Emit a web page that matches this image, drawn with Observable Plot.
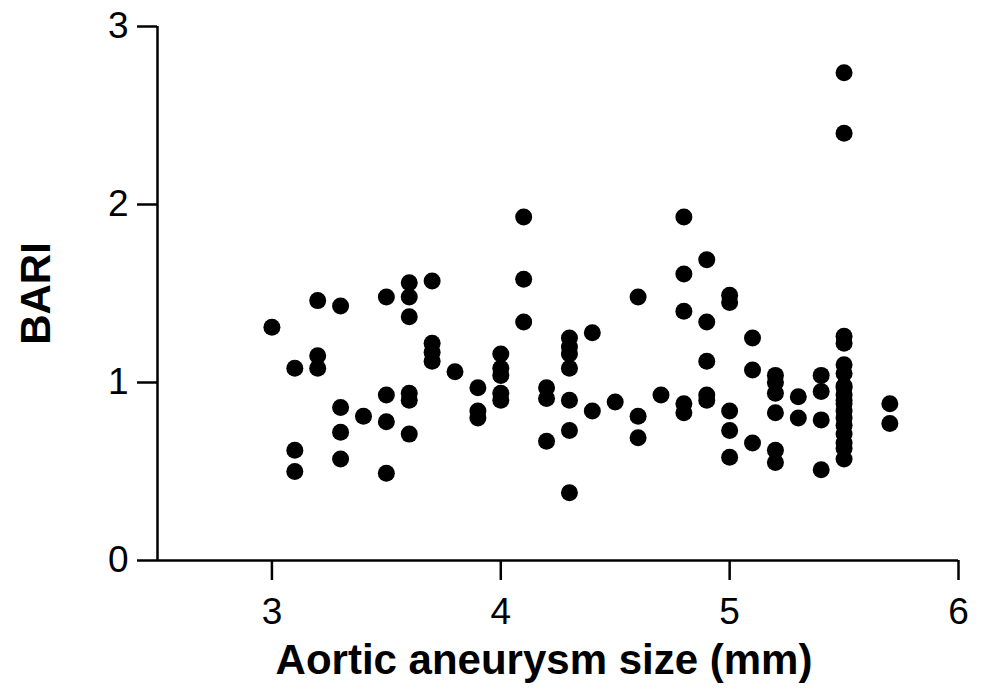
<!DOCTYPE html>
<html>
<head>
<meta charset="utf-8">
<script src="https://cdn.jsdelivr.net/npm/d3@7"></script>
<script src="https://cdn.jsdelivr.net/npm/@observablehq/plot@0.6"></script>
<style>
  html, body { margin: 0; padding: 0; background: #fff; }
</style>
</head>
<body>
<div id="chart"></div>
<script>
// Aortic aneurysm size (x) and BARI (y)
const sizes = [
  3.0,
  3.1, 3.1, 3.1,
  3.2, 3.2, 3.2,
  3.3, 3.3, 3.3, 3.3,
  3.4,
  3.5, 3.5, 3.5, 3.5,
  3.6, 3.6, 3.6, 3.6, 3.6, 3.6,
  3.7, 3.7, 3.7, 3.7,
  3.8,
  3.9, 3.9, 3.9,
  4.0, 4.0, 4.0, 4.0, 4.0,
  4.1, 4.1, 4.1,
  4.2, 4.2, 4.2,
  4.3, 4.3, 4.3, 4.3, 4.3, 4.3, 4.3,
  4.4, 4.4,
  4.5,
  4.6, 4.6, 4.6,
  4.7,
  4.8, 4.8, 4.8, 4.8, 4.8,
  4.9, 4.9, 4.9, 4.9, 4.9,
  5.0, 5.0, 5.0, 5.0, 5.0,
  5.1, 5.1, 5.1,
  5.2, 5.2, 5.2, 5.2, 5.2, 5.2,
  5.3, 5.3,
  5.4, 5.4, 5.4, 5.4,
  5.5, 5.5, 5.5, 5.5, 5.5, 5.5, 5.5, 5.5, 5.5, 5.5, 5.5, 5.5, 5.5, 5.5, 5.5, 5.5, 5.5, 5.5,
  5.7, 5.7
];
const bari = [
  1.31,
  1.08, 0.62, 0.50,
  1.46, 1.15, 1.08,
  1.43, 0.86, 0.72, 0.57,
  0.81,
  1.48, 0.93, 0.78, 0.49,
  1.56, 1.48, 1.37, 0.94, 0.90, 0.71,
  1.57, 1.22, 1.17, 1.12,
  1.06,
  0.97, 0.84, 0.80,
  1.16, 1.08, 1.04, 0.94, 0.90,
  1.93, 1.58, 1.34,
  0.97, 0.91, 0.67,
  1.25, 1.20, 1.16, 1.08, 0.90, 0.73, 0.38,
  1.28, 0.84,
  0.89,
  1.48, 0.81, 0.69,
  0.93,
  1.93, 1.61, 1.40, 0.88, 0.83,
  1.69, 1.34, 1.12, 0.93, 0.90,
  1.49, 1.45, 0.84, 0.73, 0.58,
  1.25, 1.07, 0.66,
  1.04, 1.00, 0.94, 0.83, 0.62, 0.55,
  0.92, 0.80,
  1.04, 0.95, 0.79, 0.51,
  2.74, 2.40, 1.26, 1.22, 1.10, 1.05, 0.97, 0.93, 0.88, 0.84, 0.80, 0.76, 0.71, 0.66, 0.63, 0.57, 0.90, 0.98,
  0.88, 0.77
];
const xTicks = [3, 4, 5, 6];
const yTicks = [0, 1, 2, 3];
const xTitle = "Aortic aneurysm size (mm)";
const yTitle = "BARI";

const data = sizes.map((x, i) => ({x, y: bari[i]}));

const chart = Plot.plot({
  width: 981,
  height: 696,
  marginLeft: 157,
  marginRight: 23,
  marginTop: 26,
  marginBottom: 136,
  x: {domain: [2.5, 6]},
  y: {domain: [0, 3]},
  style: {fontFamily: "'Liberation Sans', Arial, Helvetica, sans-serif", background: "#fff", color: "#000"},
  marks: [
    Plot.ruleY([0], {stroke: "#000", strokeWidth: 2.5}),
    Plot.ruleX([2.5], {stroke: "#000", strokeWidth: 2.5}),
    Plot.axisX({ticks: xTicks, tickSize: 20, tickPadding: 17, fontSize: 37, strokeWidth: 2.5, label: null, tickFormat: d => String(d)}),
    Plot.axisY({ticks: yTicks, tickSize: 20, tickPadding: 9, fontSize: 37, strokeWidth: 2.5, label: null, tickFormat: d => String(d)}),
    Plot.dot(data, {x: "x", y: "y", r: 8.5, fill: "#000", stroke: null}),
    Plot.text([xTitle], {frameAnchor: "bottom", dx: -14, dy: 113, fontSize: 42, fontWeight: "bold", fill: "#000"}),
    Plot.text([yTitle], {frameAnchor: "left", dx: -121, rotate: -90, textAnchor: "middle", fontSize: 42, fontWeight: "bold", fill: "#000"})
  ]
});
document.getElementById("chart").appendChild(chart);
</script>
</body>
</html>
